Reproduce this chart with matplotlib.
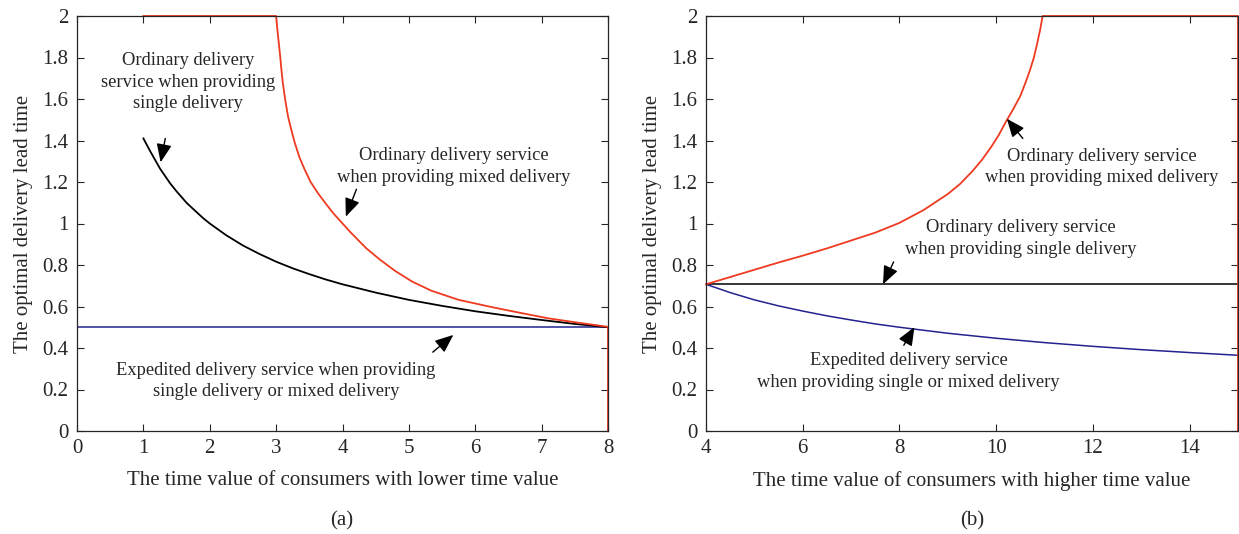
import numpy as np
import matplotlib
matplotlib.use('Agg')
import matplotlib.pyplot as plt

plt.rcParams['font.family'] = ['Liberation Serif', 'DejaVu Serif']
plt.rcParams['text.color'] = '#262626'
plt.rcParams['axes.labelcolor'] = '#262626'
plt.rcParams['xtick.color'] = '#262626'
plt.rcParams['ytick.color'] = '#262626'

RED = '#ee3a20'
BLUE = '#23238f'

# panel (a): lower time value consumers
a_black_x = [1, 1.1, 1.25, 1.4, 1.5, 1.65, 1.75, 1.9, 2, 2.25, 2.5, 2.75, 3, 3.25, 3.5, 3.75,
             4, 4.5, 5, 5.5, 6, 6.5, 7, 7.5, 8]
a_black_y = [1.41, 1.35, 1.265, 1.195, 1.155, 1.10, 1.07, 1.026, 1.0, 0.943, 0.894, 0.853,
             0.816, 0.784, 0.756, 0.730, 0.707, 0.667, 0.632, 0.603, 0.577, 0.555, 0.535,
             0.516, 0.5]
a_red_x = [1, 3.0, 3.02, 3.04, 3.06, 3.08, 3.10, 3.14, 3.18, 3.23, 3.28, 3.35, 3.43, 3.52,
           3.63, 3.75, 3.86, 4.0, 4.12, 4.23, 4.36, 4.56, 4.79, 5.05, 5.34, 5.75, 6.25, 6.7,
           7.1, 7.55, 8.0, 8.0]
a_red_y = [2.0, 2.0, 1.93, 1.87, 1.81, 1.74, 1.68, 1.59, 1.515, 1.45, 1.39, 1.32, 1.26, 1.20,
           1.146, 1.095, 1.05, 1.0, 0.958, 0.922, 0.88, 0.827, 0.772, 0.72, 0.676, 0.632, 0.597,
           0.568, 0.543, 0.522, 0.502, 0.0]
a_blue_x = [0, 8]
a_blue_y = [0.5, 0.5]

# panel (b): higher time value consumers
b_red_x = [4, 4.5, 5, 5.5, 6, 6.5, 7, 7.5, 8, 8.5, 9, 9.25, 9.5, 9.7, 9.9, 10.05, 10.2,
           10.35, 10.5, 10.6, 10.7, 10.78, 10.85, 10.91, 10.96, 15, 15]
b_red_y = [0.707, 0.742, 0.777, 0.812, 0.845, 0.88, 0.918, 0.956, 1.003, 1.065, 1.142, 1.19,
           1.25, 1.305, 1.37, 1.425, 1.49, 1.55, 1.615, 1.675, 1.74, 1.80, 1.87, 1.935, 2.0,
           2.0, 0.0]
b_black_x = [4, 15]
b_black_y = [0.707, 0.707]
b_blue_x = [4, 4.5, 5, 5.5, 6, 6.5, 7, 7.5, 8, 9, 10, 11, 12, 13, 14, 15]
b_blue_y = [0.707, 0.667, 0.632, 0.603, 0.578, 0.555, 0.535, 0.516, 0.50, 0.471, 0.447,
            0.426, 0.408, 0.392, 0.378, 0.365]

a_xticks = [0, 1, 2, 3, 4, 5, 6, 7, 8]
b_xticks = [4, 6, 8, 10, 12, 14]
yticks = [0, 0.2, 0.4, 0.6, 0.8, 1, 1.2, 1.4, 1.6, 1.8, 2]
ytick_labels = ['0', '0.2', '0.4', '0.6', '0.8', '1', '1.2', '1.4', '1.6', '1.8', '2']

FS = 15
AFS = 13.3
W, H = 1239, 534
fig = plt.figure(figsize=(W / 100, H / 100), dpi=100)
ax1 = fig.add_axes([77 / W, 1 - 431 / H, 531 / W, 415 / H])
ax2 = fig.add_axes([706 / W, 1 - 431 / H, 532 / W, 415 / H])

arrow = dict(arrowstyle='-|>,head_length=0.8,head_width=0.33', color='black', lw=1.0,
             shrinkA=0, shrinkB=0, mutation_scale=14)


def style(ax, xlim, xticks):
    ax.set_xlim(*xlim)
    ax.set_ylim(0, 2)
    ax.set_xticks(xticks)
    ax.set_xticklabels([str(t) for t in xticks])
    ax.set_yticks(yticks)
    ax.set_yticklabels(ytick_labels)
    ax.tick_params(direction='in', top=True, right=True, length=5, width=0.8,
                   labelsize=FS, pad=6)
    for s in ax.spines.values():
        s.set_linewidth(0.9)
        s.set_color('#262626')
    ax.set_ylabel('The optimal delivery lead time', fontsize=FS, labelpad=7)


def note(ax, x, y, txt):
    ax.text(x, y, txt, ha='center', va='center', fontsize=AFS, linespacing=1.35)


ax1.plot(a_blue_x, a_blue_y, color=BLUE, lw=1.1)
ax1.plot(a_black_x, a_black_y, color='black', lw=1.3)
ax1.plot(a_red_x, a_red_y, color=RED, lw=1.3, clip_on=False)
style(ax1, (0, 8), a_xticks)
ax1.set_xlabel('The time value of consumers with lower time value', fontsize=FS, labelpad=9)

note(ax1, 1.67, 1.68, 'Ordinary delivery\nservice when providing\nsingle delivery')
ax1.annotate('', xy=(1.26, 1.295), xytext=(1.33, 1.41), arrowprops=arrow)
note(ax1, 5.67, 1.274, 'Ordinary delivery service\nwhen providing mixed delivery')
ax1.annotate('', xy=(4.05, 1.033), xytext=(4.21, 1.165), arrowprops=arrow)
note(ax1, 3.0, 0.241, 'Expedited delivery service when providing\nsingle delivery or mixed delivery')
ax1.annotate('', xy=(5.67, 0.463), xytext=(5.36, 0.38), arrowprops=arrow)

ax2.plot(b_blue_x, b_blue_y, color=BLUE, lw=1.1)
ax2.plot(b_black_x, b_black_y, color='black', lw=1.1)
ax2.plot(b_red_x, b_red_y, color=RED, lw=1.3, clip_on=False)
style(ax2, (4, 15), b_xticks)
ax2.set_xlabel('The time value of consumers with higher time value', fontsize=FS, labelpad=9)

note(ax2, 12.19, 1.273, 'Ordinary delivery service\nwhen providing mixed delivery')
ax2.annotate('', xy=(10.22, 1.505), xytext=(10.55, 1.41), arrowprops=arrow)
note(ax2, 10.51, 0.928, 'Ordinary delivery service\nwhen providing single delivery')
ax2.annotate('', xy=(7.66, 0.707), xytext=(7.88, 0.815), arrowprops=arrow)
note(ax2, 8.19, 0.287, 'Expedited delivery service\nwhen providing single or mixed delivery')
ax2.annotate('', xy=(8.31, 0.501), xytext=(8.09, 0.413), arrowprops=arrow)

fig.text(342 / W, 1 - 521 / H, '(a)', ha='center', va='center', fontsize=FS)
fig.text(972 / W, 1 - 521 / H, '(b)', ha='center', va='center', fontsize=FS)

fig.savefig('out.png', dpi=100)
